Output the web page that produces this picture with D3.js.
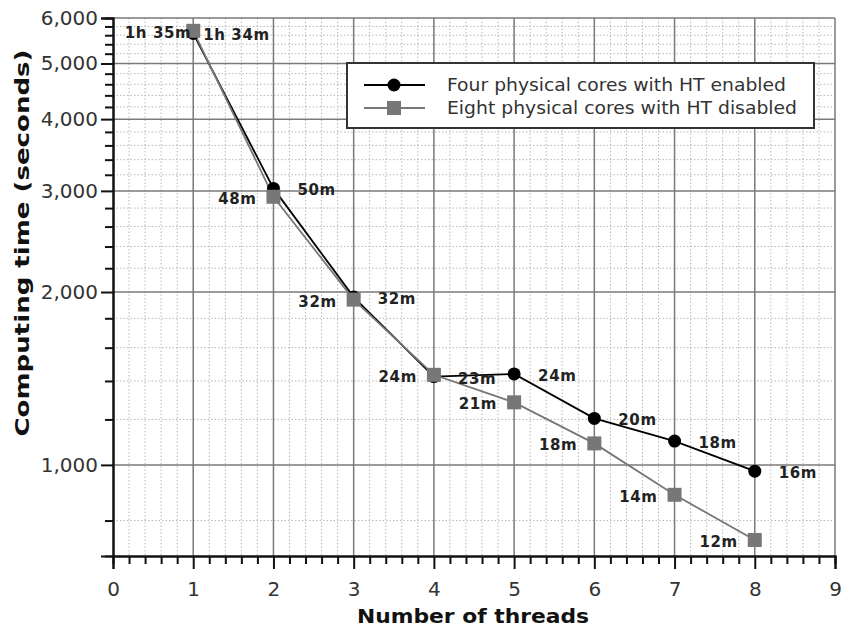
<!DOCTYPE html>
<html><head><meta charset="utf-8">
<script src="https://cdn.jsdelivr.net/npm/d3@7"></script>
<style>html,body{margin:0;padding:0;background:#fff;}svg{display:block;}</style>
</head><body>
<script>
const threads = [1, 2, 3, 4, 5, 6, 7, 8];
const htEnabled = [5640, 3030, 1960, 1425, 1440, 1205, 1100, 975];
const htDisabled = [5700, 2930, 1940, 1435, 1285, 1090, 887, 740];
const htEnabledLabels = ["1h 34m", "50m", "32m", "23m", "24m", "20m", "18m", "16m"];
const htDisabledLabels = ["1h 35m", "48m", "32m", "24m", "21m", "18m", "14m", "12m"];
const seriesNames = ["Four physical cores with HT enabled", "Eight physical cores with HT disabled"];
const yMajorTicks = [1000, 2000, 3000, 4000, 5000, 6000];
const xTicks = [0, 1, 2, 3, 4, 5, 6, 7, 8, 9];

const W = 843, H = 630;
const m = {l: 113, r: 8, t: 18, b: 74};
const svg = d3.select("body").append("svg").attr("width", W).attr("height", H);
const x = d3.scaleLinear().domain([0, 9]).range([m.l, W - m.r]);
const y = d3.scaleLog().domain([694, 6000]).range([H - m.b, m.t]);
const fmt = d3.format(",");

const xMinor = d3.range(0, 9.001, 0.2).map(v => +v.toFixed(1)).filter(v => Math.abs(v - Math.round(v)) > 1e-6);
const yMinor = d3.range(800, 6000, 200).filter(v => v % 1000 !== 0);

const g = svg.append("g");
g.selectAll(".vmin").data(xMinor).join("line")
  .attr("x1", d => x(d)).attr("x2", d => x(d)).attr("y1", y.range()[1]).attr("y2", y.range()[0])
  .attr("stroke", "#b8b8b8").attr("stroke-width", 1).attr("stroke-dasharray", "1.5,2");
g.selectAll(".hmin").data(yMinor).join("line")
  .attr("x1", x(0)).attr("x2", x(9)).attr("y1", d => y(d)).attr("y2", d => y(d))
  .attr("stroke", "#b8b8b8").attr("stroke-width", 1).attr("stroke-dasharray", "1.5,2");
g.selectAll(".vmaj").data(xTicks.filter(d => d > 0)).join("line")
  .attr("x1", d => x(d)).attr("x2", d => x(d)).attr("y1", y.range()[1]).attr("y2", y.range()[0])
  .attr("stroke", "#7a7a7a").attr("stroke-width", 1.5);
g.selectAll(".hmaj").data(yMajorTicks).join("line")
  .attr("x1", x(0)).attr("x2", x(9)).attr("y1", d => y(d)).attr("y2", d => y(d))
  .attr("stroke", "#7a7a7a").attr("stroke-width", 1.5);

const xAxisMinor = d3.axisBottom(x).tickValues(xMinor).tickSize(8).tickFormat("");
const xAxis = d3.axisBottom(x).tickValues(xTicks).tickSize(13).tickPadding(13).tickFormat(d3.format("d"));
const yAxisMinor = d3.axisLeft(y).tickValues(yMinor).tickSize(8).tickFormat("");
const yAxis = d3.axisLeft(y).tickValues(yMajorTicks).tickSize(12).tickPadding(3).tickFormat(fmt);

function styleAxis(sel) {
  sel.selectAll("path").attr("stroke", "#111").attr("stroke-width", 2);
  sel.selectAll("line").attr("stroke", "#111").attr("stroke-width", 2);
  sel.selectAll("text").attr("fill", "#333").style("font-family", "DejaVu Sans").style("font-size", "20px");
}
svg.append("g").attr("transform", `translate(0,${y.range()[0]})`).call(xAxisMinor).call(styleAxis);
svg.append("g").attr("transform", `translate(0,${y.range()[0]})`).call(xAxis).call(styleAxis);
svg.append("g").attr("transform", `translate(${x(0)},0)`).call(yAxisMinor).call(styleAxis);
svg.append("g").attr("transform", `translate(${x(0)},0)`).call(yAxis).call(styleAxis);

svg.append("text").attr("x", 473).attr("y", 623).attr("text-anchor", "middle")
  .attr("textLength", 232).attr("lengthAdjust", "spacingAndGlyphs")
  .style("font-family", "DejaVu Sans").style("font-weight", "bold").style("font-size", "20px").attr("fill", "#111")
  .text("Number of threads");
svg.append("text").attr("transform", `translate(29,243) rotate(-90)`)
  .attr("text-anchor", "middle")
  .attr("textLength", 387).attr("lengthAdjust", "spacingAndGlyphs")
  .style("font-family", "DejaVu Sans").style("font-weight", "bold").style("font-size", "20px").attr("fill", "#111")
  .text("Computing time (seconds)");

const series = [
  {vals: htEnabled, labels: htEnabledLabels, color: "#000", marker: "circle", side: 1},
  {vals: htDisabled, labels: htDisabledLabels, color: "#777", marker: "square", side: -1}
];
const line = d3.line().x(d => x(d[0])).y(d => y(d[1]));
series.forEach(s => {
  const pts = threads.map((t, i) => [t, s.vals[i]]);
  svg.append("path").datum(pts).attr("d", line).attr("fill", "none").attr("stroke", s.color).attr("stroke-width", 1.8);
});
series.forEach(s => {
  const pts = threads.map((t, i) => [t, s.vals[i]]);
  if (s.marker === "circle") {
    svg.selectAll(null).data(pts).join("circle").attr("cx", d => x(d[0])).attr("cy", d => y(d[1])).attr("r", 6.5).attr("fill", s.color);
  } else {
    svg.selectAll(null).data(pts).join("rect").attr("x", d => x(d[0]) - 7).attr("y", d => y(d[1]) - 7)
      .attr("width", 14).attr("height", 14).attr("fill", s.color);
  }
});
series.forEach(s => {
  svg.selectAll(null).data(threads).join("text")
    .attr("x", (d, i) => x(d) + (s.side > 0 ? (i === 0 ? 10 : 24) : (i === 0 ? -2 : -17)))
    .attr("y", (d, i) => y(s.vals[i]) + 7)
    .attr("text-anchor", s.side > 0 ? "start" : "end")
    .style("font-family", "DejaVu Sans").style("font-weight", "bold").style("font-size", "15px")
    .style("letter-spacing", "0.6px").attr("fill", "#222")
    .text((d, i) => s.labels[i]);
});

const lg = svg.append("g").attr("transform", "translate(347,63)");
lg.append("rect").attr("width", 467).attr("height", 65).attr("fill", "#fff").attr("stroke", "#333").attr("stroke-width", 2);
const legendLen = [339, 350];
series.forEach((s, i) => {
  const yy = 22 + i * 23;
  lg.append("line").attr("x1", 17).attr("x2", 78).attr("y1", yy).attr("y2", yy).attr("stroke", s.color).attr("stroke-width", 1.8);
  if (s.marker === "circle") lg.append("circle").attr("cx", 47).attr("cy", yy).attr("r", 6.5).attr("fill", s.color);
  else lg.append("rect").attr("x", 40).attr("y", yy - 7).attr("width", 14).attr("height", 14).attr("fill", s.color);
  lg.append("text").attr("x", 100).attr("y", yy + 6).style("font-family", "DejaVu Sans").style("font-size", "17px")
    .attr("textLength", legendLen[i]).attr("lengthAdjust", "spacingAndGlyphs")
    .attr("fill", "#333").text(seriesNames[i]);
});
</script>
</body></html>
